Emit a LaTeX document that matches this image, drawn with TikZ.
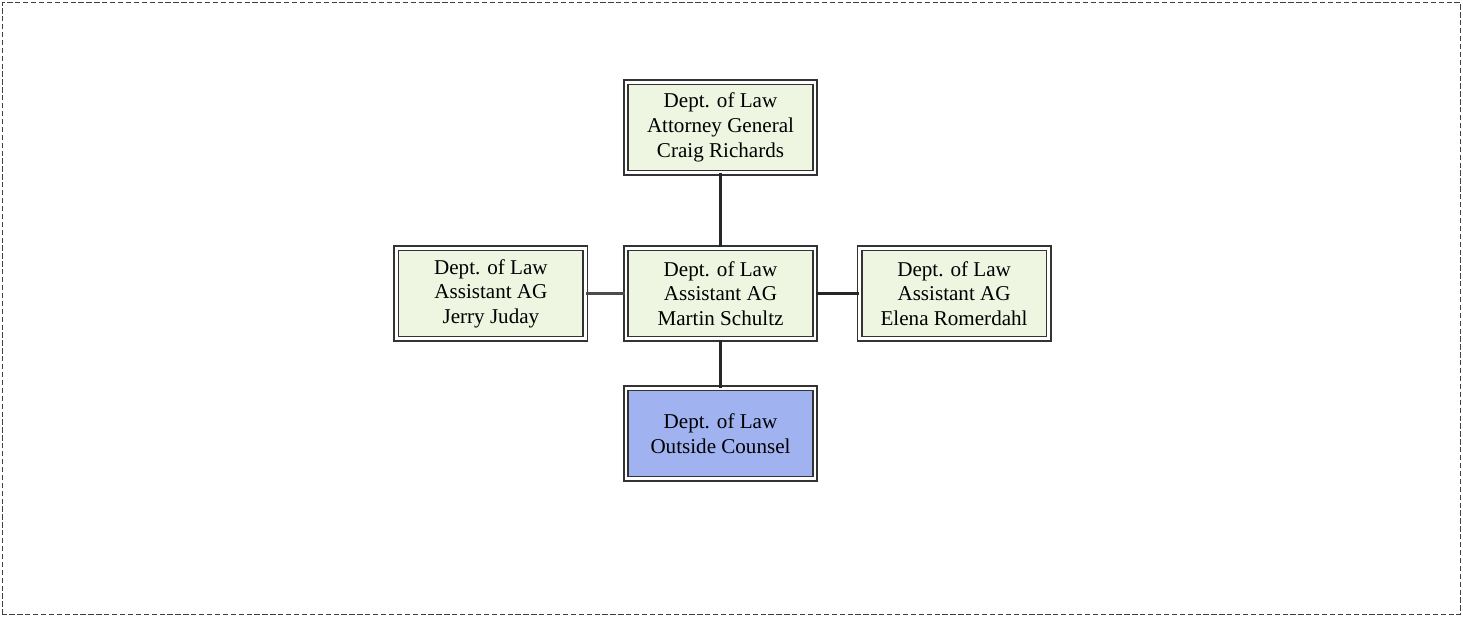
\documentclass[tikz,border=0pt]{standalone}
\usepackage{fontspec}
\setmainfont{Liberation Serif}
\usepackage{xcolor}
\definecolor{lawgreen}{RGB}{238,246,226}
\definecolor{counselblue}{RGB}{160,178,240}
\usepackage{tikz}
\usetikzlibrary{positioning}

\begin{document}
\begin{tikzpicture}[
    office/.style={draw=black!80, line width=0.9pt, double=white, double distance=1.6pt,
        fill=lawgreen, minimum width=3.78cm, minimum height=1.81cm, align=center,
        font=\fontsize{12}{14}\selectfont, inner sep=2pt},
    link/.style={draw=black!85, line width=1.5pt}
]

% Page frame
\useasboundingbox (0,0) rectangle (29.26,12.34);
\draw[black!75, line width=0.8pt, dash pattern=on 3pt off 1.5pt] (0.05,0.05) rectangle (29.21,12.29);

% Central office
\node[office] (schultz) at (14.41,6.47) {Dept. of Law\\Assistant AG\\Martin Schultz};

% Offices around it
\node[office, above=1.48cm of schultz] (richards) {Dept. of Law\\Attorney General\\Craig Richards};
\node[office, left=0.78cm of schultz] (juday) {Dept. of Law\\Assistant AG\\Jerry Juday};
\node[office, right=0.86cm of schultz] (romerdahl) {Dept. of Law\\Assistant AG\\Elena Romerdahl};
\node[office, fill=counselblue, below=0.96cm of schultz] (counsel) {Dept. of Law\\Outside Counsel};

% Links
\draw[link] (richards) -- (schultz);
\draw[link, line width=1.2pt, black!70] (juday) -- (schultz);
\draw[link] (schultz) -- (romerdahl);
\draw[link] (schultz) -- (counsel);

\end{tikzpicture}
\end{document}
